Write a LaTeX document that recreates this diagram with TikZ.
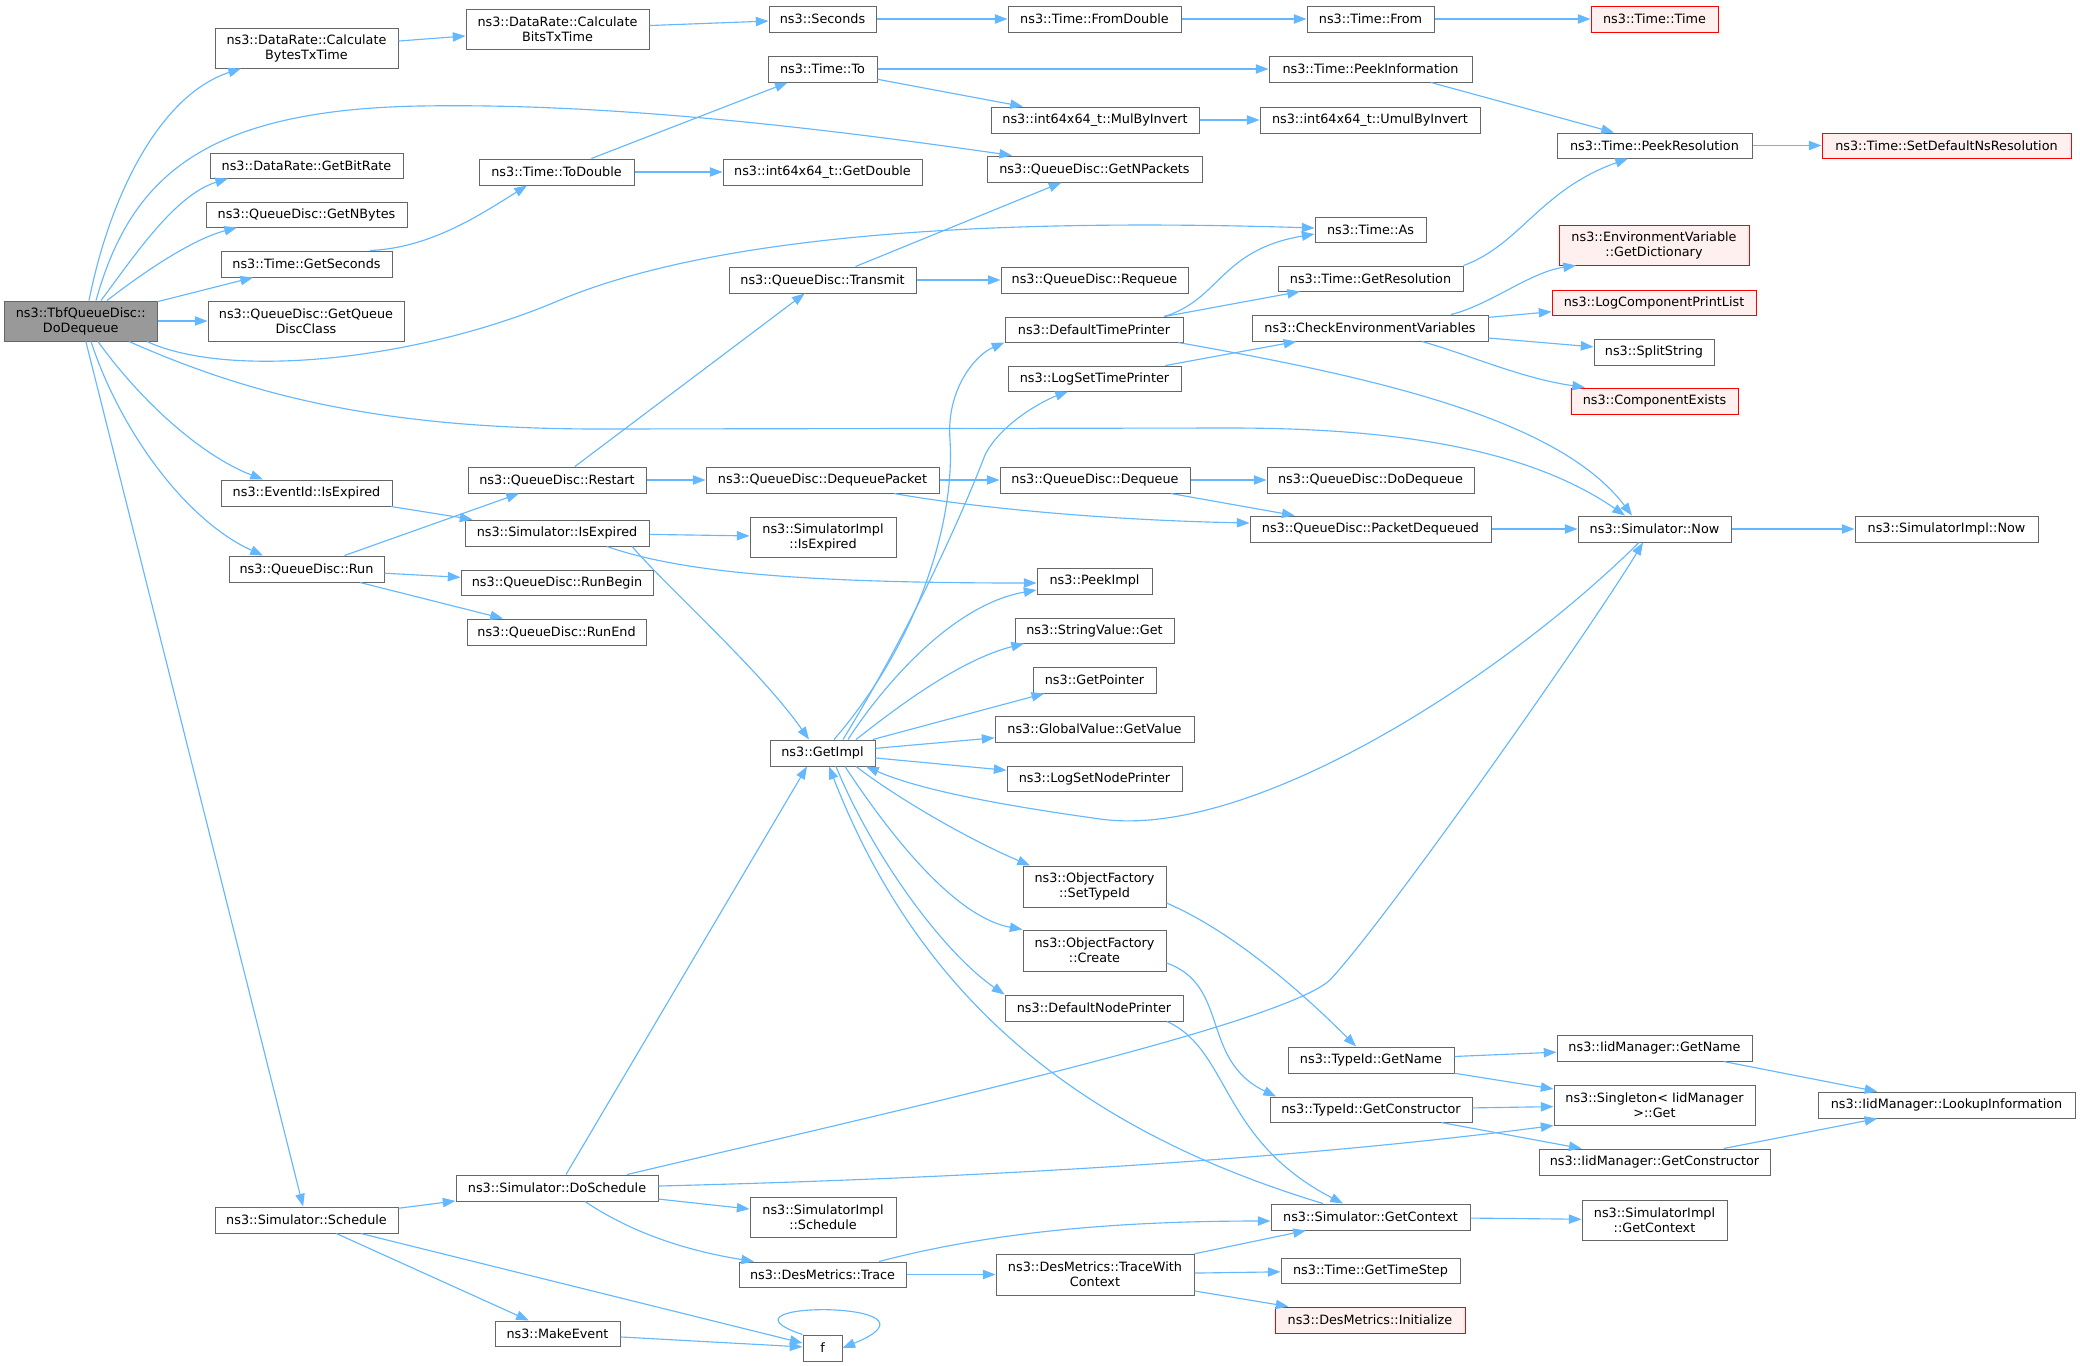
\documentclass[tikz,border=0pt]{standalone}
\usepackage{fontspec}
\setmainfont{DejaVu Sans}
\usetikzlibrary{arrows.meta}
\definecolor{edgeblue}{HTML}{63B8FF}
\definecolor{boxgray}{HTML}{666666}
\definecolor{rootgray}{HTML}{999999}
\definecolor{redfill}{HTML}{FFF0F0}
\newcommand\callnode[7][]{\node[fn,#1,minimum width={(#5-#3)*0.75pt},minimum height={(#6-#4)*0.75pt}] (#2) at ({(#3+#5)/2},{(#4+#6)/2}) {#7};}
\begin{document}
\begin{tikzpicture}[x=0.75pt,y=-0.75pt,
  fn/.style={draw=boxgray,fill=white,line width=0.75pt,inner sep=0pt,align=center,font=\fontsize{9.6}{11.25}\selectfont},
  rootfn/.style={fill=rootgray},
  redfn/.style={draw=red,fill=redfill},
  call/.style={draw=edgeblue,line width=0.85pt,-{Triangle[length=9.5pt,width=7pt]}}]
\fill[white] (0,0) rectangle (2080,1365);
\useasboundingbox (0,0) rectangle (2080,1365);
% nodes
\callnode[rootfn]{D}{4.5}{301}{157}{341}{ns3::TbfQueueDisc::\\DoDequeue}
\callnode{CB}{215}{28}{398}{68}{ns3::DataRate::Calculate\\BytesTxTime}
\callnode{CBT}{466}{9}{649}{49}{ns3::DataRate::Calculate\\BitsTxTime}
\callnode{SEC}{769}{6}{876}{32}{ns3::Seconds}
\callnode{FD}{1008}{6}{1181}{32}{ns3::Time::FromDouble}
\callnode{FROM}{1307}{6}{1434}{32}{ns3::Time::From}
\callnode[redfn]{TT}{1591}{6}{1718}{32}{ns3::Time::Time}
\callnode{TO}{768}{56}{877}{82}{ns3::Time::To}
\callnode{PI}{1269}{56}{1472}{82}{ns3::Time::PeekInformation}
\callnode{MBI}{991}{107}{1199}{133}{ns3::int64x64\_t::MulByInvert}
\callnode{UBI}{1260}{107}{1480}{133}{ns3::int64x64\_t::UmulByInvert}
\callnode{PR}{1557}{133}{1752}{158}{ns3::Time::PeekResolution}
\callnode[redfn]{SDNR}{1822}{133}{2071}{158}{ns3::Time::SetDefaultNsResolution}
\callnode{GBR}{210}{153}{403}{178}{ns3::DataRate::GetBitRate}
\callnode{TD}{479}{159}{634}{185}{ns3::Time::ToDouble}
\callnode{GDBL}{723}{159}{922}{185}{ns3::int64x64\_t::GetDouble}
\callnode{GNP}{987}{156}{1202}{182}{ns3::QueueDisc::GetNPackets}
\callnode{GNB}{206}{202}{407}{227}{ns3::QueueDisc::GetNBytes}
\callnode{AS}{1315}{217}{1426}{242}{ns3::Time::As}
\callnode[redfn]{GDICT}{1559}{225}{1749}{265}{ns3::EnvironmentVariable\\::GetDictionary}
\callnode{GS}{221}{251}{392}{277}{ns3::Time::GetSeconds}
\callnode{TX}{729}{267}{916}{293}{ns3::QueueDisc::Transmit}
\callnode{RQ}{1001}{267}{1188}{293}{ns3::QueueDisc::Requeue}
\callnode{GR}{1278}{266}{1463}{291}{ns3::Time::GetResolution}
\callnode[redfn]{LCPL}{1552}{290}{1756}{315}{ns3::LogComponentPrintList}
\callnode{GQDC}{208}{301}{404}{341}{ns3::QueueDisc::GetQueue\\DiscClass}
\callnode{DTP}{1005}{317}{1183}{342}{ns3::DefaultTimePrinter}
\callnode{CE}{1252}{315}{1488}{341}{ns3::CheckEnvironmentVariables}
\callnode{SPS}{1594}{339}{1714}{365}{ns3::SplitString}
\callnode{LST}{1008}{366}{1181}{391}{ns3::LogSetTimePrinter}
\callnode[redfn]{CEX}{1571}{388}{1738}{414}{ns3::ComponentExists}
\callnode{RS}{468}{467}{646}{493}{ns3::QueueDisc::Restart}
\callnode{DP}{706}{467}{939}{493}{ns3::QueueDisc::DequeuePacket}
\callnode{DQ}{1000}{467}{1190}{493}{ns3::QueueDisc::Dequeue}
\callnode{QDD}{1267}{467}{1474}{493}{ns3::QueueDisc::DoDequeue}
\callnode{EI}{221}{480}{392}{506}{ns3::EventId::IsExpired}
\callnode{SIE}{465}{520}{649}{546}{ns3::Simulator::IsExpired}
\callnode{SII}{750}{517}{896}{557}{ns3::SimulatorImpl\\::IsExpired}
\callnode{PD}{1250}{516}{1491}{542}{ns3::QueueDisc::PacketDequeued}
\callnode{SN}{1578}{516}{1731}{542}{ns3::Simulator::Now}
\callnode{SIN}{1855}{516}{2038}{542}{ns3::SimulatorImpl::Now}
\callnode{RUN}{229}{556}{384}{582}{ns3::QueueDisc::Run}
\callnode{RB}{461}{570}{653}{595}{ns3::QueueDisc::RunBegin}
\callnode{PK}{1037}{568}{1152}{594}{ns3::PeekImpl}
\callnode{SVG}{1015}{618}{1174}{643}{ns3::StringValue::Get}
\callnode{RE}{467}{619}{646}{645}{ns3::QueueDisc::RunEnd}
\callnode{GP}{1033}{667}{1156}{693}{ns3::GetPointer}
\callnode{GV}{995}{716}{1194}{742}{ns3::GlobalValue::GetValue}
\callnode{GI}{770}{740}{875}{766}{ns3::GetImpl}
\callnode{LSN}{1007}{766}{1182}{791}{ns3::LogSetNodePrinter}
\callnode{ST}{1023}{866}{1166}{907}{ns3::ObjectFactory\\::SetTypeId}
\callnode{CR}{1023}{930}{1166}{971}{ns3::ObjectFactory\\::Create}
\callnode{DNP}{1005}{995}{1183}{1021}{ns3::DefaultNodePrinter}
\callnode{IGN}{1557}{1035}{1752}{1061}{ns3::IidManager::GetName}
\callnode{TGN}{1288}{1047}{1454}{1073}{ns3::TypeId::GetName}
\callnode{SG}{1554}{1085}{1755}{1125}{ns3::Singleton< IidManager\\>::Get}
\callnode{LI}{1818}{1092}{2075}{1118}{ns3::IidManager::LookupInformation}
\callnode{TGC}{1270}{1097}{1472}{1122}{ns3::TypeId::GetConstructor}
\callnode{IGC}{1539}{1149}{1770}{1175}{ns3::IidManager::GetConstructor}
\callnode{DS}{456}{1175}{658}{1201}{ns3::Simulator::DoSchedule}
\callnode{SS}{750}{1197}{896}{1237}{ns3::SimulatorImpl\\::Schedule}
\callnode{SGC}{1582}{1200}{1727}{1240}{ns3::SimulatorImpl\\::GetContext}
\callnode{GC}{1271}{1204}{1470}{1230}{ns3::Simulator::GetContext}
\callnode{SCH}{215}{1207}{398}{1233}{ns3::Simulator::Schedule}
\callnode{TRC}{739}{1262}{906}{1287}{ns3::DesMetrics::Trace}
\callnode{TWC}{996}{1254}{1194}{1295}{ns3::DesMetrics::TraceWith\\Context}
\callnode{GTS}{1281}{1258}{1460}{1283}{ns3::Time::GetTimeStep}
\callnode[redfn]{INI}{1275}{1307}{1465}{1333}{ns3::DesMetrics::Initialize}
\callnode{ME}{495}{1321}{620}{1346}{ns3::MakeEvent}
\callnode{F}{803}{1335}{842}{1361}{f}
% edges from root
\draw[call] (D.north -| 89,0) .. controls (110,195) and (160,95) .. (CB.south -| 241,0);
\draw[call] (D.north -| 96,0) .. controls (130,180) and (200,110) .. (420,106) .. controls (600,103) and (800,125) .. (GNP.north -| 1012,0);
\draw[call] (D.north -| 101,0) .. controls (135,255) and (175,195) .. (GBR.south -| 228,0);
\draw[call] (D.north -| 107,0) .. controls (140,275) and (190,240) .. (GNB.south -| 237,0);
\draw[call] (D) -- (GS);
\draw[call] (D) -- (GQDC);
\draw[call] (D.south -| 147,0) .. controls (230,380) and (420,360) .. (560,300) .. controls (680,250) and (900,215) .. (AS.west |- 0,228);
\draw[call] (D.south -| 129,0) .. controls (250,395) and (380,429) .. (600,429) -- (1230,428) .. controls (1400,428) and (1530,450) .. (SN.north -| 1625,0);
\draw[call] (D.south -| 98,0) .. controls (140,400) and (200,455) .. (EI.north -| 263,0);
\draw[call] (D.south -| 91,0) .. controls (120,430) and (185,520) .. (RUN.north -| 263,0);
\draw[call] (D) -- (SCH);
% upper chain
\draw[call] (CB) -- (CBT);
\draw[call] (CBT) -- (SEC);
\draw[call] (SEC) -- (FD);
\draw[call] (FD) -- (FROM);
\draw[call] (FROM) -- (TT);
\draw[call] (GS.north -| 370,0) .. controls (430,248) and (480,215) .. (TD.south -| 527,0);
\draw[call] (TD) -- (TO);
\draw[call] (TD) -- (GDBL);
\draw[call] (TO) -- (PI);
\draw[call] (TO) -- (MBI);
\draw[call] (MBI) -- (UBI);
\draw[call] (PI.south -| 1431,0) -- (PR.north -| 1614,0);
\draw[call] (PR) -- (SDNR);
\draw[call] (GR.north east) .. controls (1520,245) and (1540,190) .. (PR.south -| 1628,0);
\draw[call] (TX) -- (GNP);
\draw[call] (TX) -- (RQ);
\draw[call] (DTP.north -| 1164,0) .. controls (1220,300) and (1220,250) .. (AS.west |- 0,234);
\draw[call] (DTP) -- (GR);
\draw[call] (DTP.south -| 1178,0) .. controls (1380,378) and (1560,420) .. (SN.north -| 1632,0);
\draw[call] (LST) -- (CE);
\draw[call] (CE.north -| 1451,0) .. controls (1490,305) and (1530,272) .. (GDICT.south -| 1576,0);
\draw[call] (CE) -- (LCPL);
\draw[call] (CE) -- (SPS);
\draw[call] (CE.south -| 1422,0) .. controls (1470,355) and (1520,378) .. (CEX.north -| 1585,0);
% middle
\draw[call] (RS) -- (TX);
\draw[call] (RS) -- (DP);
\draw[call] (EI) -- (SIE);
\draw[call] (RUN) -- (RS);
\draw[call] (RUN) -- (RB);
\draw[call] (RUN) -- (RE);
\draw[call] (SIE) -- (SII);
\draw[call] (SIE.south -| 607,0) .. controls (680,572) and (800,583) .. (PK.west |- 0,583);
\draw[call] (SIE.south -| 632,0) .. controls (670,590) and (760,670) .. (GI.north -| 809,0);
\draw[call] (DP) -- (DQ);
\draw[call] (DP.south -| 894,0) .. controls (970,507) and (1100,520) .. (PD.west |- 0,523);
\draw[call] (DQ) -- (QDD);
\draw[call] (DQ) -- (PD);
\draw[call] (PD) -- (SN);
\draw[call] (SN) -- (SIN);
% GetImpl
\draw[call] (GI.north -| 834,0) .. controls (920,640) and (955,520) .. (950,440) .. controls (946,390) and (975,355) .. (DTP.south west);
\draw[call] (GI.north -| 843,0) .. controls (910,630) and (960,520) .. (985,455) .. controls (1000,425) and (1040,402) .. (LST.south -| 1068,0);
\draw[call] (GI.north -| 848,0) .. controls (880,690) and (950,605) .. (PK.west |- 0,590);
\draw[call] (GI.north -| 856,0) .. controls (900,705) and (960,660) .. (SVG.south -| 1024,0);
\draw[call] (GI) -- (GP);
\draw[call] (GI) -- (GV);
\draw[call] (GI) -- (LSN);
\draw[call] (GI.south -| 856,0) .. controls (900,800) and (970,840) .. (ST.north -| 1030,0);
\draw[call] (GI.south -| 845,0) .. controls (900,850) and (960,918) .. (CR.north west);
\draw[call] (GI.south -| 836,0) .. controls (870,850) and (940,950) .. (DNP.north west);
\draw[call] (GC.north -| 1323,0) .. controls (1080,1130) and (920,1000) .. (GI.south -| 829,0);
\draw[call] (SN.south -| 1639,0) .. controls (1500,680) and (1250,840) .. (1100,819) .. controls (1000,805) and (920,790) .. (GI.south -| 866,0);
% lower
\draw[call] (DS.north -| 566,0) -- (GI.south -| 807,0);
\draw[call] (DS.north -| 627,0) .. controls (900,1110) and (1280,1025) .. (1330,980) .. controls (1390,915) and (1590,630) .. (SN.south -| 1643,0);
\draw[call] (DS.east |- 0,1186) .. controls (900,1180) and (1250,1165) .. (SG.south west);
\draw[call] (DS) -- (SS);
\draw[call] (DS.south -| 585,0) .. controls (620,1225) and (670,1248) .. (TRC.north -| 754,0);
\draw[call] (SCH) -- (DS);
\draw[call] (SCH) -- (ME);
\draw[call] (SCH) -- (F);
\draw[call] (ME) -- (F);
\draw[call] (F.north west) .. controls (700,1300) and (960,1300) .. (F.east);
\draw[call] (TRC.north -| 879,0) .. controls (980,1235) and (1100,1221) .. (GC.west |- 0,1221);
\draw[call] (TRC) -- (TWC);
\draw[call] (TWC) -- (GC);
\draw[call] (TWC) -- (GTS);
\draw[call] (TWC) -- (INI);
\draw[call] (GC) -- (SGC);
\draw[call] (DNP.south -| 1167,0) .. controls (1230,1050) and (1220,1140) .. (GC.north -| 1343,0);
\draw[call] (ST.east |- 0,903) .. controls (1230,930) and (1300,990) .. (TGN.north -| 1356,0);
\draw[call] (CR.east |- 0,963) .. controls (1230,985) and (1200,1060) .. (TGC.north -| 1276,0);
\draw[call] (TGN) -- (IGN);
\draw[call] (TGN) -- (SG);
\draw[call] (TGC) -- (SG);
\draw[call] (TGC) -- (IGC);
\draw[call] (IGN) -- (LI);
\draw[call] (IGC) -- (LI);
\end{tikzpicture}
\end{document}
